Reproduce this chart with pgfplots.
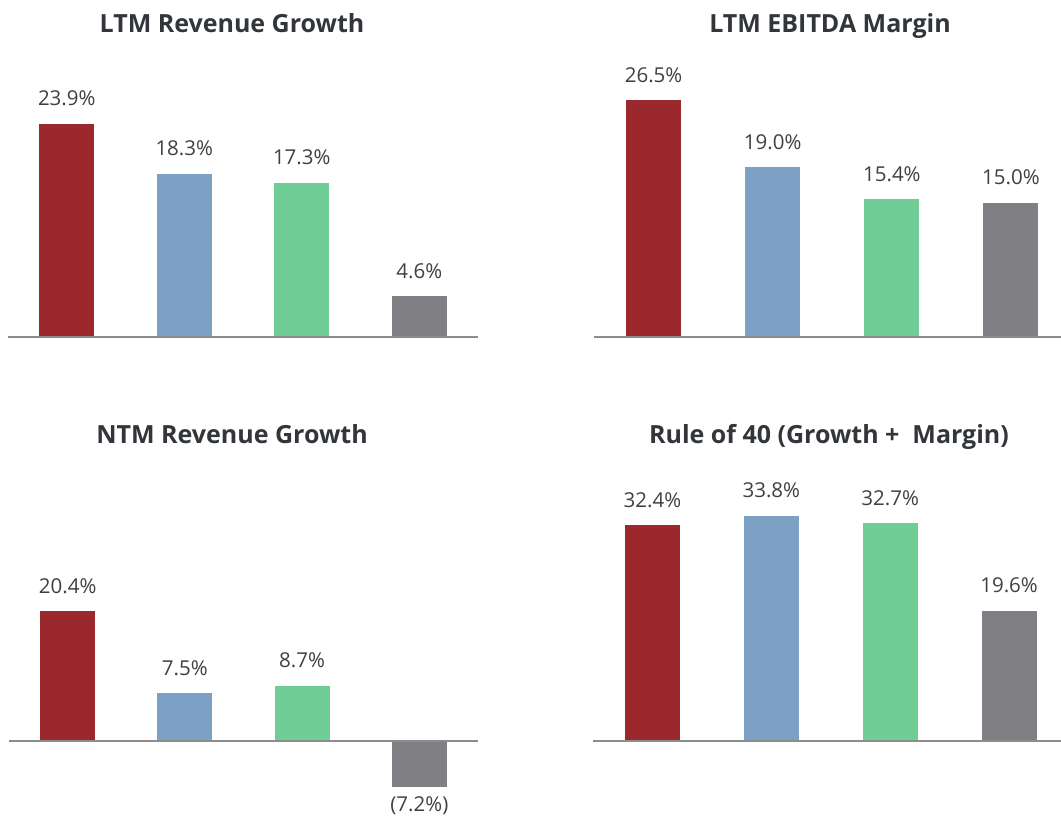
\documentclass[border=0pt]{standalone}
\usepackage{pgfplots}
\pgfplotsset{compat=1.18}
\usepackage{fontspec}
\setmainfont{Open Sans}
\definecolor{cred}{RGB}{154,40,44}
\definecolor{cblue}{RGB}{124,161,196}
\definecolor{cgreen}{RGB}{112,205,150}
\definecolor{cgray}{RGB}{128,128,132}
\definecolor{ctext}{RGB}{64,64,64}
\definecolor{ctitle}{RGB}{50,54,58}
\definecolor{caxis}{RGB}{140,140,140}
\pgfplotsset{
  panel/.style={
    scale only axis, hide axis, clip=false, ybar,
    bar width=55bp, bar shift=0pt,
    point meta=explicit symbolic,
    nodes near coords,
    every node near coord/.append style={inner sep=0pt, yshift=17.5bp, text=ctext,
      font=\fontsize{20.5bp}{24bp}\selectfont},
  },
  neg/.style={every node near coord/.style={inner sep=0pt, anchor=base, yshift=-24.8bp, text=ctext,
      font=\fontsize{20.5bp}{24bp}\selectfont}},
}
\begin{document}
\begin{tikzpicture}[x=1bp,y=1bp]
\path[use as bounding box] (0,0) rectangle (1061,818);
\tikzset{ttl/.style={anchor=base, text=ctitle, font=\fontsize{25bp}{30bp}\selectfont\bfseries}}
\node[ttl] at (232,785) {LTM Revenue Growth};
\node[ttl] at (830,785) {LTM EBITDA Margin};
\node[ttl] at (232,374.5) {NTM Revenue Growth};
\node[ttl] at (829,374.5) {Rule of 40 (Growth +\ \ Margin)};

% Top-left
\begin{axis}[panel, at={(8bp,480.5bp)}, anchor=south west, width=470bp, height=268.4bp,
  xmin=-0.5, xmax=3.5, ymin=0, ymax=30]
\addplot[fill=cred, draw=none] coordinates {(0,23.9) [23.9\%]};
\addplot[fill=cblue, draw=none] coordinates {(1,18.3) [18.3\%]};
\addplot[fill=cgreen, draw=none] coordinates {(2,17.3) [17.3\%]};
\addplot[fill=cgray, draw=none] coordinates {(3,4.6) [4.6\%]};
\draw[caxis, line width=2bp] (axis cs:-0.5,0) -- (axis cs:3.5,0);
\end{axis}

% Top-right
\begin{axis}[panel, at={(594bp,481bp)}, anchor=south west, width=467bp, height=268.2bp,
  xmin=-0.5, xmax=3.42, ymin=0, ymax=30]
\addplot[fill=cred, draw=none] coordinates {(0,26.5) [26.5\%]};
\addplot[fill=cblue, draw=none] coordinates {(1,19.0) [19.0\%]};
\addplot[fill=cgreen, draw=none] coordinates {(2,15.4) [15.4\%]};
\addplot[fill=cgray, draw=none] coordinates {(3,15.0) [15.0\%]};
\draw[caxis, line width=2bp] (axis cs:-0.5,0) -- (axis cs:3.42,0);
\end{axis}

% Bottom-left
\begin{axis}[panel, at={(9bp,13.3bp)}, anchor=south west, width=469bp, height=223bp,
  xmin=-0.5, xmax=3.5, ymin=-10, ymax=25]
\addplot[fill=cred, draw=none] coordinates {(0,20.4) [20.4\%]};
\addplot[fill=cblue, draw=none] coordinates {(1,7.5) [7.5\%]};
\addplot[fill=cgreen, draw=none] coordinates {(2,8.7) [8.7\%]};
\addplot[fill=cgray, draw=none, neg] coordinates {(3,-7.2) [(7.2\%)]};
\draw[caxis, line width=2bp] (axis cs:-0.5,0) -- (axis cs:3.5,0);
\end{axis}

% Bottom-right
\begin{axis}[panel, at={(593bp,76.5bp)}, anchor=south west, width=468bp, height=267.2bp,
  xmin=-0.5, xmax=3.437, ymin=0, ymax=40]
\addplot[fill=cred, draw=none] coordinates {(0,32.4) [32.4\%]};
\addplot[fill=cblue, draw=none] coordinates {(1,33.8) [33.8\%]};
\addplot[fill=cgreen, draw=none] coordinates {(2,32.7) [32.7\%]};
\addplot[fill=cgray, draw=none] coordinates {(3,19.6) [19.6\%]};
\draw[caxis, line width=2bp] (axis cs:-0.5,0) -- (axis cs:3.437,0);
\end{axis}
\end{tikzpicture}
\end{document}
